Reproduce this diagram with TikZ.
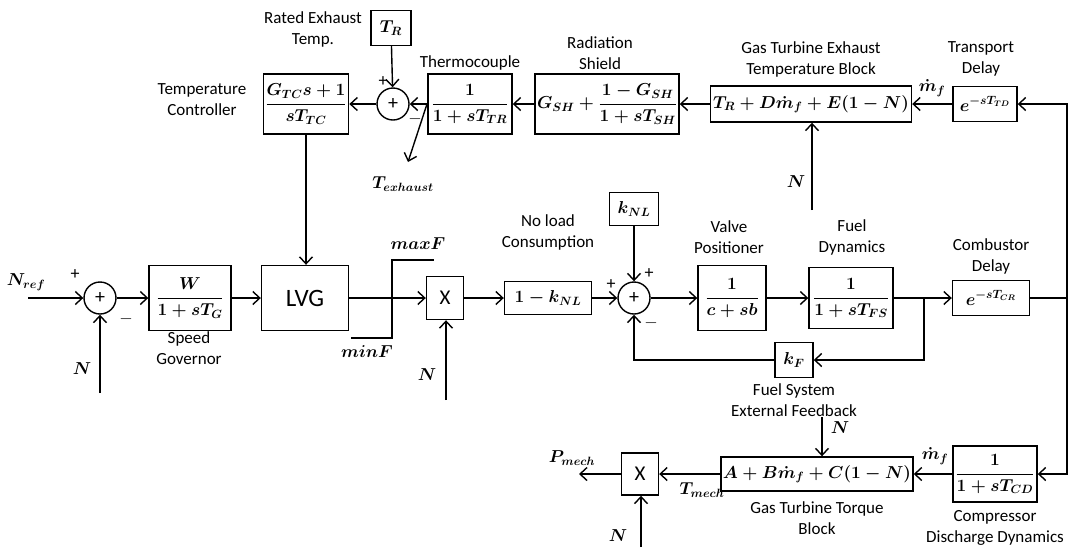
\documentclass[tikz,border=0pt]{standalone}
\usepackage{amsmath}
\usepackage{fontspec}
\setmainfont{Carlito}
\usetikzlibrary{positioning,arrows.meta,calc}
\newcommand{\lfont}{\fontsize{17}{21}\selectfont}
\newcommand{\mfont}{\fontsize{16.5}{19}\selectfont\boldmath}
\tikzset{
  blk/.style ={draw, line width=1.4pt, inner sep=2pt, align=center, font=\mfont},
  sumj/.style={circle, draw, line width=1.4pt, minimum size=32pt, inner sep=0pt, font=\fontsize{20}{24}\selectfont},
  lbl/.style ={font=\lfont, align=center, inner sep=1pt},
  sig/.style ={font=\fontsize{18}{21}\selectfont, inner sep=0pt},
  mlbl/.style={font=\mfont, inner sep=0pt},
  arr/.style ={-{Straight Barb[length=7pt,width=13pt,line width=1.4pt]}, line width=1.4pt},
  ln/.style  ={line width=1.4pt},
}

\begin{document}
\begin{tikzpicture}[x=1pt, y=-1pt]
  \useasboundingbox (0,0) rectangle (1078,547);
  % temperature loop
  \node[blk, minimum width=40pt, minimum height=35pt] (tr) at (391,28) {$T_R$};
  \node[sumj] (sumT) at (393,104) {+};
  \node[blk, minimum width=83pt, minimum height=60pt] (tc) at (306,104) {$\dfrac{G_{TC}s+1}{sT_{TC}}$};
  \node[blk, minimum width=84pt, minimum height=60pt] (thermo) at (470,104) {$\dfrac{1}{1+sT_{TR}}$};
  \node[blk, minimum width=144pt, minimum height=60pt] (rad) at (607,104) {$G_{SH}+\dfrac{1-G_{SH}}{1+sT_{SH}}$};
  \node[blk, minimum width=201pt, minimum height=36pt] (exh) at (811,104) {$T_R+D\dot{m}_f+E(1-N)$};
  \node[blk, minimum width=64pt, minimum height=35pt] (td) at (985,104) {$e^{-sT_{TD}}$};
  \node[lbl] at (313,29) {Rated Exhaust\\Temp.};
  \node[lbl, above=2pt of thermo] {Thermocouple};
  \node[lbl] at (202,100) {Temperature\\Controller};
  \node[lbl] at (600,53) {Radiation\\Shield};
  \node[lbl] at (811,59) {Gas Turbine Exhaust\\Temperature Block};
  \node[lbl] at (981,59) {Transport\\Delay};
  \node[sig] at (383,82) {+};
  \node[sig] at (415,119) {$-$};
  \node[mlbl] at (932,88) {$\dot{m}_f$};
  \node[mlbl] at (796,182) {$N$};
  \node[mlbl] at (403,184) {$T_{exhaust}$};
  \coordinate (nE) at (812,210);
  \coordinate (tx0) at (427,104);
  \coordinate (tx1) at (408,162);
  \draw[arr] (tr) -- (sumT);
  \draw[arr] (thermo) -- (sumT);
  \draw[arr] (sumT) -- (tc);
  \draw[arr] (rad) -- (thermo);
  \draw[arr] (exh) -- (rad);
  \draw[arr] (td) -- (exh);
  \draw[arr] (nE) -- (nE |- exh.south);
  \draw[arr] (tx0) -- (tx1);
  % speed / fuel path
  \node[sumj] (sumG) at (100,298) {+};
  \node[blk, minimum width=82pt, minimum height=65pt] (gov) at (190,298) {$\dfrac{W}{1+sT_G}$};
  \node[blk, minimum width=87pt, minimum height=65pt, font=\fontsize{25}{30}\selectfont] (lvg) at (305,298) {LVG};
  \node[blk, minimum width=37pt, minimum height=43pt, font=\fontsize{21}{25}\selectfont] (mx) at (445,298) {X};
  \node[blk, minimum width=87pt, minimum height=33pt] (nl) at (548,298) {$1-k_{NL}$};
  \node[blk, minimum width=49pt, minimum height=33pt] (knl) at (634,209) {$k_{NL}$};
  \node[sumj] (sumF) at (634,298) {+};
  \node[blk, minimum width=68pt, minimum height=65pt] (vp) at (732,298) {$\dfrac{1}{c+sb}$};
  \node[blk, minimum width=84pt, minimum height=61pt] (fd) at (851,298) {$\dfrac{1}{1+sT_{FS}}$};
  \node[blk, minimum width=38pt, minimum height=35pt] (kf) at (794,360) {$k_F$};
  \node[blk, minimum width=77pt, minimum height=35pt] (cd) at (991,298) {$e^{-sT_{CR}}$};
  \node[lbl] at (189,348) {Speed\\Governor};
  \node[lbl] at (548,232) {No load\\Consumption};
  \node[lbl] at (729,237) {Valve\\Positioner};
  \node[lbl] at (852,237) {Fuel\\Dynamics};
  \node[lbl] at (991,256) {Combustor\\Delay};
  \node[lbl] at (794,400) {Fuel System\\External Feedback};
  \node[mlbl] at (26,282) {$N_{ref}$};
  \node[mlbl] at (82,369) {$N$};
  \node[mlbl] at (418,244) {$maxF$};
  \node[mlbl] at (367,352) {$minF$};
  \node[mlbl] at (427,375) {$N$};
  \node[sig] at (75,275) {+};
  \node[sig] at (126,319) {$-$};
  \node[sig] at (649,274) {+};
  \node[sig] at (611,285) {+};
  \node[sig] at (651,323) {$-$};
  \coordinate (nref) at (28,298);
  \coordinate (nG) at (100,393);
  \coordinate (nX) at (446,400);
  \coordinate (br) at (924,298);
  \coordinate (r2) at (1067,298);
  \draw[arr] (nref) -- (sumG);
  \draw[arr] (nG) -- (sumG);
  \draw[arr] (sumG) -- (gov);
  \draw[arr] (gov) -- (lvg);
  \draw[arr] (tc.south) -- (tc.south |- lvg.north);
  \draw[arr] (lvg) -- (mx);
  \draw[arr] (nX) -- (nX |- mx.south);
  \draw[arr] (mx) -- (nl);
  \draw[arr] (nl) -- (sumF);
  \draw[arr] (knl) -- (sumF);
  \draw[arr] (sumF) -- (vp);
  \draw[arr] (vp) -- (fd);
  \draw[arr] (fd) -- (cd);
  \draw[arr] (br) |- (kf.east);
  \draw[arr] (kf.west) -| (sumF.south);
  \draw[ln] (351,338) -- (392,338) -- (392,260) -- (434,260);
  \draw[arr] (cd.east) -- (r2) |- (td.east);
  % torque output
  \node[blk, minimum width=84pt, minimum height=56pt] (cmp) at (995,474) {$\dfrac{1}{1+sT_{CD}}$};
  \node[blk, minimum width=172pt, minimum height=34pt] (tq) at (817,474) {$A+B\dot{m}_f+C(1-N)$};
  \node[blk, minimum width=37pt, minimum height=42pt, font=\fontsize{21}{25}\selectfont] (mt) at (640,474) {X};
  \node[lbl] at (817,518) {Gas Turbine Torque\\Block};
  \node[lbl] at (995,528) {Compressor\\Discharge Dynamics};
  \node[mlbl] at (840,428) {$N$};
  \node[mlbl] at (935,456) {$\dot{m}_f$};
  \node[mlbl] at (702,490) {$T_{mech}$};
  \node[mlbl] at (572,458) {$P_{mech}$};
  \node[mlbl] at (618,536) {$N$};
  \coordinate (nT) at (822,417);
  \coordinate (nM) at (641,547);
  \coordinate (pm) at (579,474);
  \draw[arr] (r2) |- (cmp.east);
  \draw[arr] (cmp) -- (tq);
  \draw[arr] (nT) -- (nT |- tq.north);
  \draw[arr] (tq) -- (mt);
  \draw[arr] (nM) -- (nM |- mt.south);
  \draw[arr] (mt) -- (pm);
\end{tikzpicture}
\end{document}
